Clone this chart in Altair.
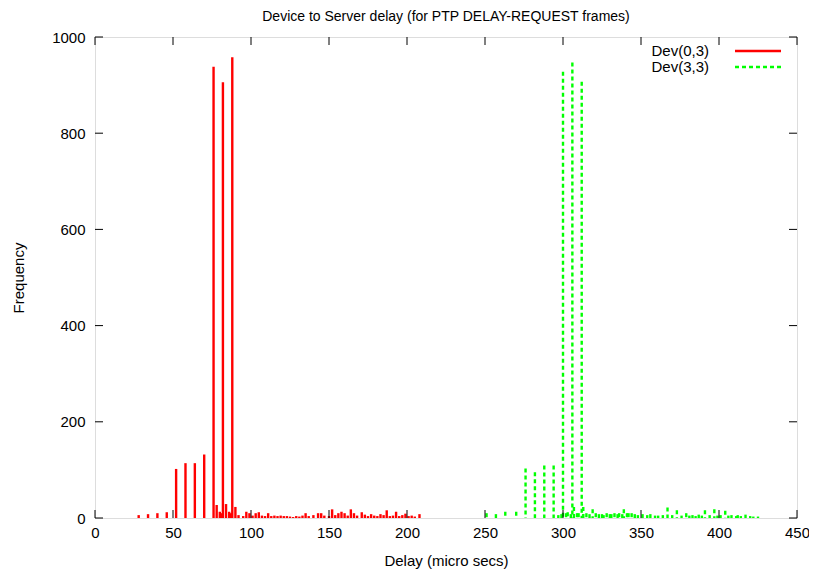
import altair as alt
import pandas as pd

# ---------------- data ----------------
series_names = ["Dev(0,3)", "Dev(3,3)"]
series_colors = ["#ff0000", "#00ff00"]

red_x = [28, 34, 40, 46, 52, 58, 64, 70, 76, 78, 80, 81, 82, 84, 86, 87, 88, 90, 92, 95,
         97, 99, 101, 103, 105, 107, 109, 111, 113, 115, 117, 119, 121, 123, 125, 127, 129,
         131, 133, 135, 137, 140, 143, 145, 147, 150, 152, 154, 156, 158, 160, 162, 164, 166,
         168, 171, 173, 175, 177, 179, 181, 183, 185, 187, 189, 191, 193, 195, 197, 199, 201,
         203, 205, 208]
red_y = [6, 8, 10, 12, 102, 114, 114, 132, 938, 27, 13, 10, 906, 29, 13, 10, 958, 23, 6, 4,
         13, 10, 5, 10, 12, 5, 4, 10, 4, 5, 4, 5, 4, 4, 3, 2, 4,
         3, 5, 10, 4, 6, 10, 10, 5, 4, 18, 6, 10, 13, 10, 5, 18, 10,
         5, 12, 7, 4, 8, 5, 4, 8, 6, 16, 4, 5, 13, 4, 6, 9, 4,
         5, 3, 8]

green_x = [251, 257, 263, 270, 276, 282, 288, 294, 297, 299, 300, 302, 303, 305, 306, 307, 309,
           310, 312, 313, 315, 317, 319, 321, 323, 325, 326, 328, 330, 331, 333, 335, 336, 338,
           339, 341, 342, 344, 346, 348, 351, 354, 356, 359, 361, 364, 367, 370, 373, 376, 379,
           381, 383, 385, 387, 389, 391, 394, 397, 399, 401, 404, 406, 408, 411, 412, 414, 417,
           420, 422, 425]
green_y = [10, 8, 13, 13, 103, 95, 109, 109, 6, 8, 928, 10, 12, 8, 947, 23, 10,
           10, 907, 23, 10, 8, 18, 10, 8, 8, 6, 10, 8, 8, 10, 8, 10, 8,
           18, 10, 10, 10, 8, 6, 8, 6, 8, 5, 5, 6, 22, 6, 16, 5, 10,
           5, 6, 4, 7, 5, 16, 6, 18, 5, 6, 15, 5, 6, 4, 6, 4, 7,
           4, 3, 3]

x_ticks = [0, 50, 100, 150, 200, 250, 300, 350, 400, 450]
y_ticks = [0, 200, 400, 600, 800, 1000]

title_text = "Device to Server delay (for PTP DELAY-REQUEST frames)"
x_title = "Delay (micro secs)"
y_title = "Frequency"

# ---------------- layout ----------------
W, H = 702, 481
FONT = "Liberation Sans"
FS = 15
TICK = 8

red_df = pd.DataFrame({"delay": red_x, "freq": red_y, "series": series_names[0]})
green_df = pd.DataFrame({"delay": green_x, "freq": green_y, "series": series_names[1]})

xscale = alt.Scale(domain=[0, 450], nice=False, zero=False)
yscale = alt.Scale(domain=[0, 1000], nice=False)

x_axis = alt.Axis(values=x_ticks, tickSize=0, grid=False, domain=False, labelFont=FONT,
                  labelFontSize=FS, labelColor="black", labelPadding=7, format="d",
                  title=x_title, titleFont=FONT, titleFontSize=FS, titleFontWeight="normal",
                  titleColor="black", titleX=W / 2, titleY=42, titleBaseline="middle",
                  labelFlush=False)
y_axis = alt.Axis(values=y_ticks, tickSize=0, grid=False, domain=False, labelFont=FONT,
                  labelFontSize=FS, labelColor="black", labelPadding=10, format="d",
                  title=y_title, titleFont=FONT, titleFontSize=FS, titleFontWeight="normal",
                  titleColor="black", titleX=-77, titleY=H / 2, titleAngle=-90,
                  titleBaseline="middle", titleAlign="center", labelFlush=False)

red = alt.Chart(red_df).mark_rule(strokeWidth=2.4, color=series_colors[0]).encode(
    x=alt.X("delay:Q", scale=xscale, axis=x_axis),
    y=alt.Y("freq:Q", scale=yscale, axis=y_axis),
    y2=alt.datum(0),
)
green = alt.Chart(green_df).mark_rule(strokeWidth=2.4, color=series_colors[1],
                                      strokeDash=[4, 3]).encode(
    x=alt.X("delay:Q", scale=xscale),
    y=alt.Y("freq:Q", scale=yscale),
    y2=alt.datum(0),
)

# inward tick marks (gnuplot style, mirrored)
xt = pd.DataFrame({"t": x_ticks})
yt = pd.DataFrame({"t": y_ticks})
xt_bottom = alt.Chart(xt).mark_rule(color="black", strokeWidth=1).encode(
    x=alt.X("t:Q", scale=xscale), y=alt.value(H), y2=alt.value(H - TICK))
xt_top = alt.Chart(xt).mark_rule(color="black", strokeWidth=1).encode(
    x=alt.X("t:Q", scale=xscale), y=alt.value(0), y2=alt.value(TICK))
yt_left = alt.Chart(yt).mark_rule(color="black", strokeWidth=1).encode(
    y=alt.Y("t:Q", scale=yscale), x=alt.value(0), x2=alt.value(TICK))
yt_right = alt.Chart(yt).mark_rule(color="black", strokeWidth=1).encode(
    y=alt.Y("t:Q", scale=yscale), x=alt.value(W - TICK), x2=alt.value(W))

# chart title as a text mark above the plot
title_df = pd.DataFrame({"t": [title_text]})
title_mark = alt.Chart(title_df).mark_text(
    align="center", baseline="middle", font=FONT, fontSize=14, color="black").encode(
    text="t:N", x=alt.value(W / 2), y=alt.value(-20))

# gnuplot-style key (label then line sample), top right inside the plot
key_df = pd.DataFrame({"name": series_names, "row": [0, 1]})
key_text0 = alt.Chart(key_df[key_df.row == 0]).mark_text(
    align="right", baseline="middle", font=FONT, fontSize=FS, color="black").encode(
    text="name:N", x=alt.value(614), y=alt.value(14))
key_text1 = alt.Chart(key_df[key_df.row == 1]).mark_text(
    align="right", baseline="middle", font=FONT, fontSize=FS, color="black").encode(
    text="name:N", x=alt.value(614), y=alt.value(30))
key_line0 = alt.Chart(key_df[key_df.row == 0]).mark_rule(
    color=series_colors[0], strokeWidth=2.4).encode(
    x=alt.value(640), x2=alt.value(686), y=alt.value(14))
key_line1 = alt.Chart(key_df[key_df.row == 1]).mark_rule(
    color=series_colors[1], strokeWidth=2.4, strokeDash=[4, 3]).encode(
    x=alt.value(640), x2=alt.value(686), y=alt.value(30))

chart = alt.layer(
    red, green, xt_bottom, xt_top, yt_left, yt_right, title_mark,
    key_text0, key_text1, key_line0, key_line1,
).properties(
    width=W,
    height=H,
    autosize=alt.AutoSizeParams(type="none"),
    padding={"left": 87, "top": 29, "right": 12, "bottom": 54},
).configure_view(
    stroke="black", strokeWidth=1.2, fill="white"
).configure(background="white")

chart.save("out.html", embed_options={"renderer": "svg", "actions": False})
